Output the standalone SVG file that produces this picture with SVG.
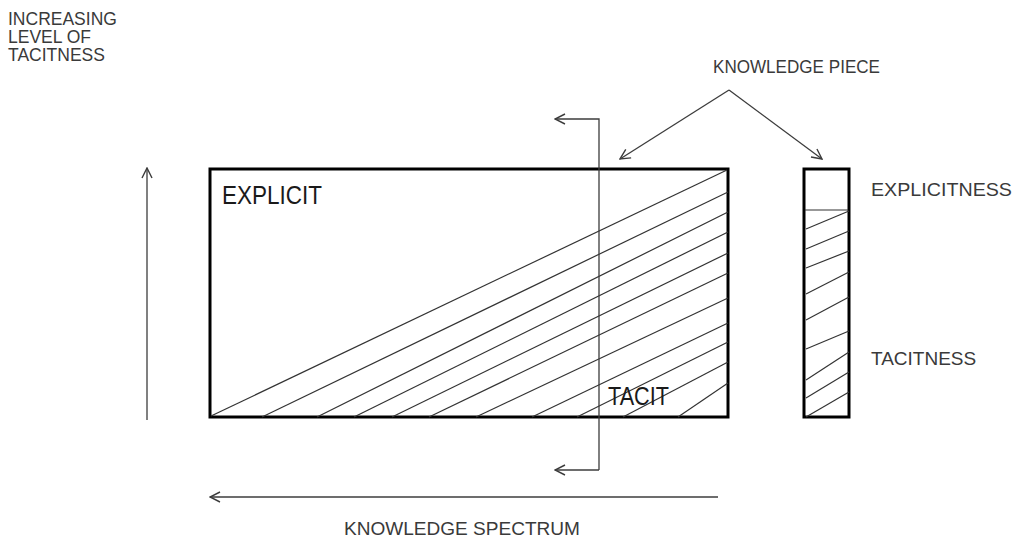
<svg xmlns="http://www.w3.org/2000/svg" width="1014" height="539" viewBox="0 0 1014 539">
  <style>
    .lbl { font-family: "Liberation Sans", Arial, sans-serif; font-size: 19px; fill: #3a3a3a; }
    .side { font-family: "Liberation Sans", Arial, sans-serif; font-size: 17.5px; fill: #3a3a3a; }
    .big { font-family: "Liberation Sans", Arial, sans-serif; font-size: 26px; fill: #1a1a1a; }
    .thin { stroke: #3c3c3c; stroke-width: 1.3; fill: none; }
    .hatch { stroke: #333; stroke-width: 1.2; fill: none; }
    .box { stroke: #000; stroke-width: 3; fill: #fff; }
  </style>
  <defs>
    <marker id="open" viewBox="0 0 12 12" refX="11" refY="6" markerWidth="12" markerHeight="12" markerUnits="userSpaceOnUse" orient="auto">
      <path d="M1,1 L11,6 L1,11" fill="none" stroke="#3c3c3c" stroke-width="1.4"/>
    </marker>
  </defs>
  <rect width="1014" height="539" fill="#fff"/>

  <g id="spectrum">
    <rect class="box" x="210" y="169" width="518" height="248"/>
    <g class="hatch">
      <line x1="211" y1="416" x2="727" y2="170"/>
      <line x1="262" y1="417" x2="728" y2="192"/>
      <line x1="317" y1="417" x2="728" y2="212"/>
      <line x1="354" y1="417" x2="728" y2="232"/>
      <line x1="392" y1="417" x2="728" y2="253"/>
      <line x1="429" y1="417" x2="728" y2="273"/>
      <line x1="476" y1="417" x2="728" y2="298"/>
      <line x1="532" y1="417" x2="728" y2="323"/>
      <line x1="577" y1="417" x2="728" y2="342"/>
      <line x1="623" y1="417" x2="728" y2="362"/>
      <line x1="678" y1="417" x2="728" y2="383"/>
    </g>
    <text class="big" x="222" y="204" textLength="100" lengthAdjust="spacingAndGlyphs">EXPLICIT</text>
    <text class="big" x="608" y="405" textLength="61" lengthAdjust="spacingAndGlyphs">TACIT</text>
  </g>

  <g id="piece">
    <rect class="box" x="804" y="169" width="45" height="248"/>
    <line class="hatch" x1="805" y1="210" x2="848" y2="210"/>
    <g class="hatch">
      <line x1="849" y1="211" x2="806" y2="229"/>
      <line x1="849" y1="231" x2="806" y2="249"/>
      <line x1="849" y1="251" x2="806" y2="268"/>
      <line x1="849" y1="272" x2="806" y2="294"/>
      <line x1="849" y1="297" x2="806" y2="320"/>
      <line x1="849" y1="331" x2="806" y2="349"/>
      <line x1="849" y1="352" x2="806" y2="380"/>
      <line x1="849" y1="372" x2="806" y2="398"/>
      <line x1="849" y1="392" x2="806" y2="417"/>
    </g>
  </g>

  <g id="labels">
    <text class="side" x="8" y="25">INCREASING</text>
    <text class="side" x="8" y="43">LEVEL OF</text>
    <text class="side" x="8" y="61">TACITNESS</text>
    <text class="lbl" x="713" y="73" textLength="167" lengthAdjust="spacingAndGlyphs">KNOWLEDGE PIECE</text>
    <text class="lbl" x="871" y="196" textLength="141" lengthAdjust="spacingAndGlyphs">EXPLICITNESS</text>
    <text class="lbl" x="871" y="365">TACITNESS</text>
    <text class="lbl" x="344" y="535" textLength="236" lengthAdjust="spacingAndGlyphs">KNOWLEDGE SPECTRUM</text>
  </g>

  <g id="connectors">
    <line class="thin" x1="147" y1="420" x2="147" y2="168" marker-end="url(#open)"/>
    <line class="thin" x1="718" y1="497" x2="210" y2="497" marker-end="url(#open)"/>
    <polyline class="thin" points="599,470 599,119 555,119" marker-end="url(#open)"/>
    <line class="thin" x1="599" y1="470" x2="555" y2="470" marker-end="url(#open)"/>
    <line class="thin" x1="729" y1="90" x2="620" y2="159" marker-end="url(#open)"/>
    <line class="thin" x1="729" y1="90" x2="822" y2="159" marker-end="url(#open)"/>
  </g>
</svg>
